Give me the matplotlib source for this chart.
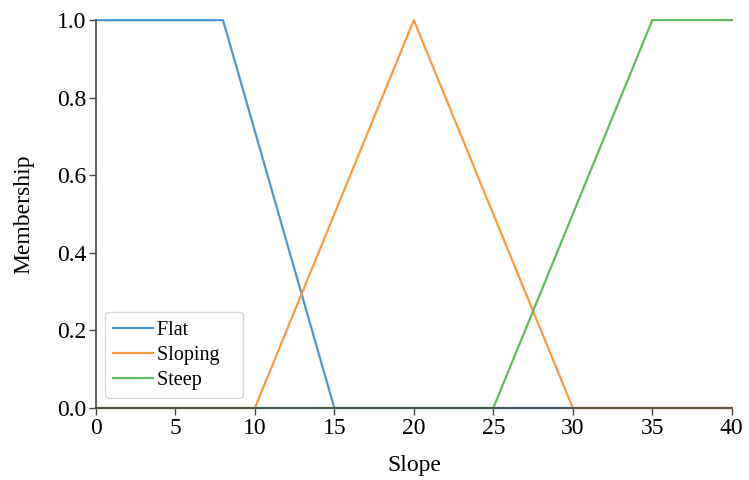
import matplotlib
matplotlib.use("Agg")
from matplotlib import pyplot as plt

# Membership function breakpoints (slope value, membership)
flat_x = [0, 8, 15, 40]
flat_y = [1, 1, 0, 0]

sloping_x = [0, 10, 20, 30, 40]
sloping_y = [0, 0, 1, 0, 0]

steep_x = [0, 25, 35, 40]
steep_y = [0, 0, 1, 1]

xticks = [0, 5, 10, 15, 20, 25, 30, 35, 40]
yticks = [0.0, 0.2, 0.4, 0.6, 0.8, 1.0]

plt.rcParams['font.family'] = ['Liberation Serif', 'DejaVu Serif']

fig = plt.figure(figsize=(7.49, 4.8), dpi=100)
ax = fig.add_axes([0.128, 0.15, 0.849, 0.808])

ax.plot(flat_x, flat_y, color='#4a98d1', lw=1.6, label='Flat', clip_on=False)
ax.plot(sloping_x, sloping_y, color='#ff9a3c', lw=1.6, label='Sloping', clip_on=False)
ax.plot(steep_x, steep_y, color='#5cbd5c', lw=1.6, label='Steep', clip_on=False)

ax.set_xlim(0, 40)
ax.set_ylim(0, 1)
ax.set_xticks(xticks)
ax.set_yticks(yticks)
ax.set_yticklabels(['{:.1f}'.format(t) for t in yticks])
ax.tick_params(labelsize=17, color='#444444', length=5, width=1, pad=2)

for side in ['top', 'right']:
    ax.spines[side].set_visible(False)
for side in ['left', 'bottom']:
    ax.spines[side].set_color('#444444')
    ax.spines[side].set_linewidth(1.2)

ax.set_xlabel('Slope', fontsize=17, labelpad=12)
ax.set_ylabel('Membership', fontsize=17, labelpad=16)

# legend box in the reference is wider than its text, pad the right side
leg = ax.legend(loc='lower left', fontsize=14.5, frameon=True, borderpad=0.4,
                handlelength=2.0, handletextpad=0.2, labelspacing=0.3,
                borderaxespad=0, bbox_to_anchor=(0.014, 0.026))
for t in leg.get_texts():
    t.set_text(t.get_text() + '   ')

plt.savefig('out.png', dpi=100)
